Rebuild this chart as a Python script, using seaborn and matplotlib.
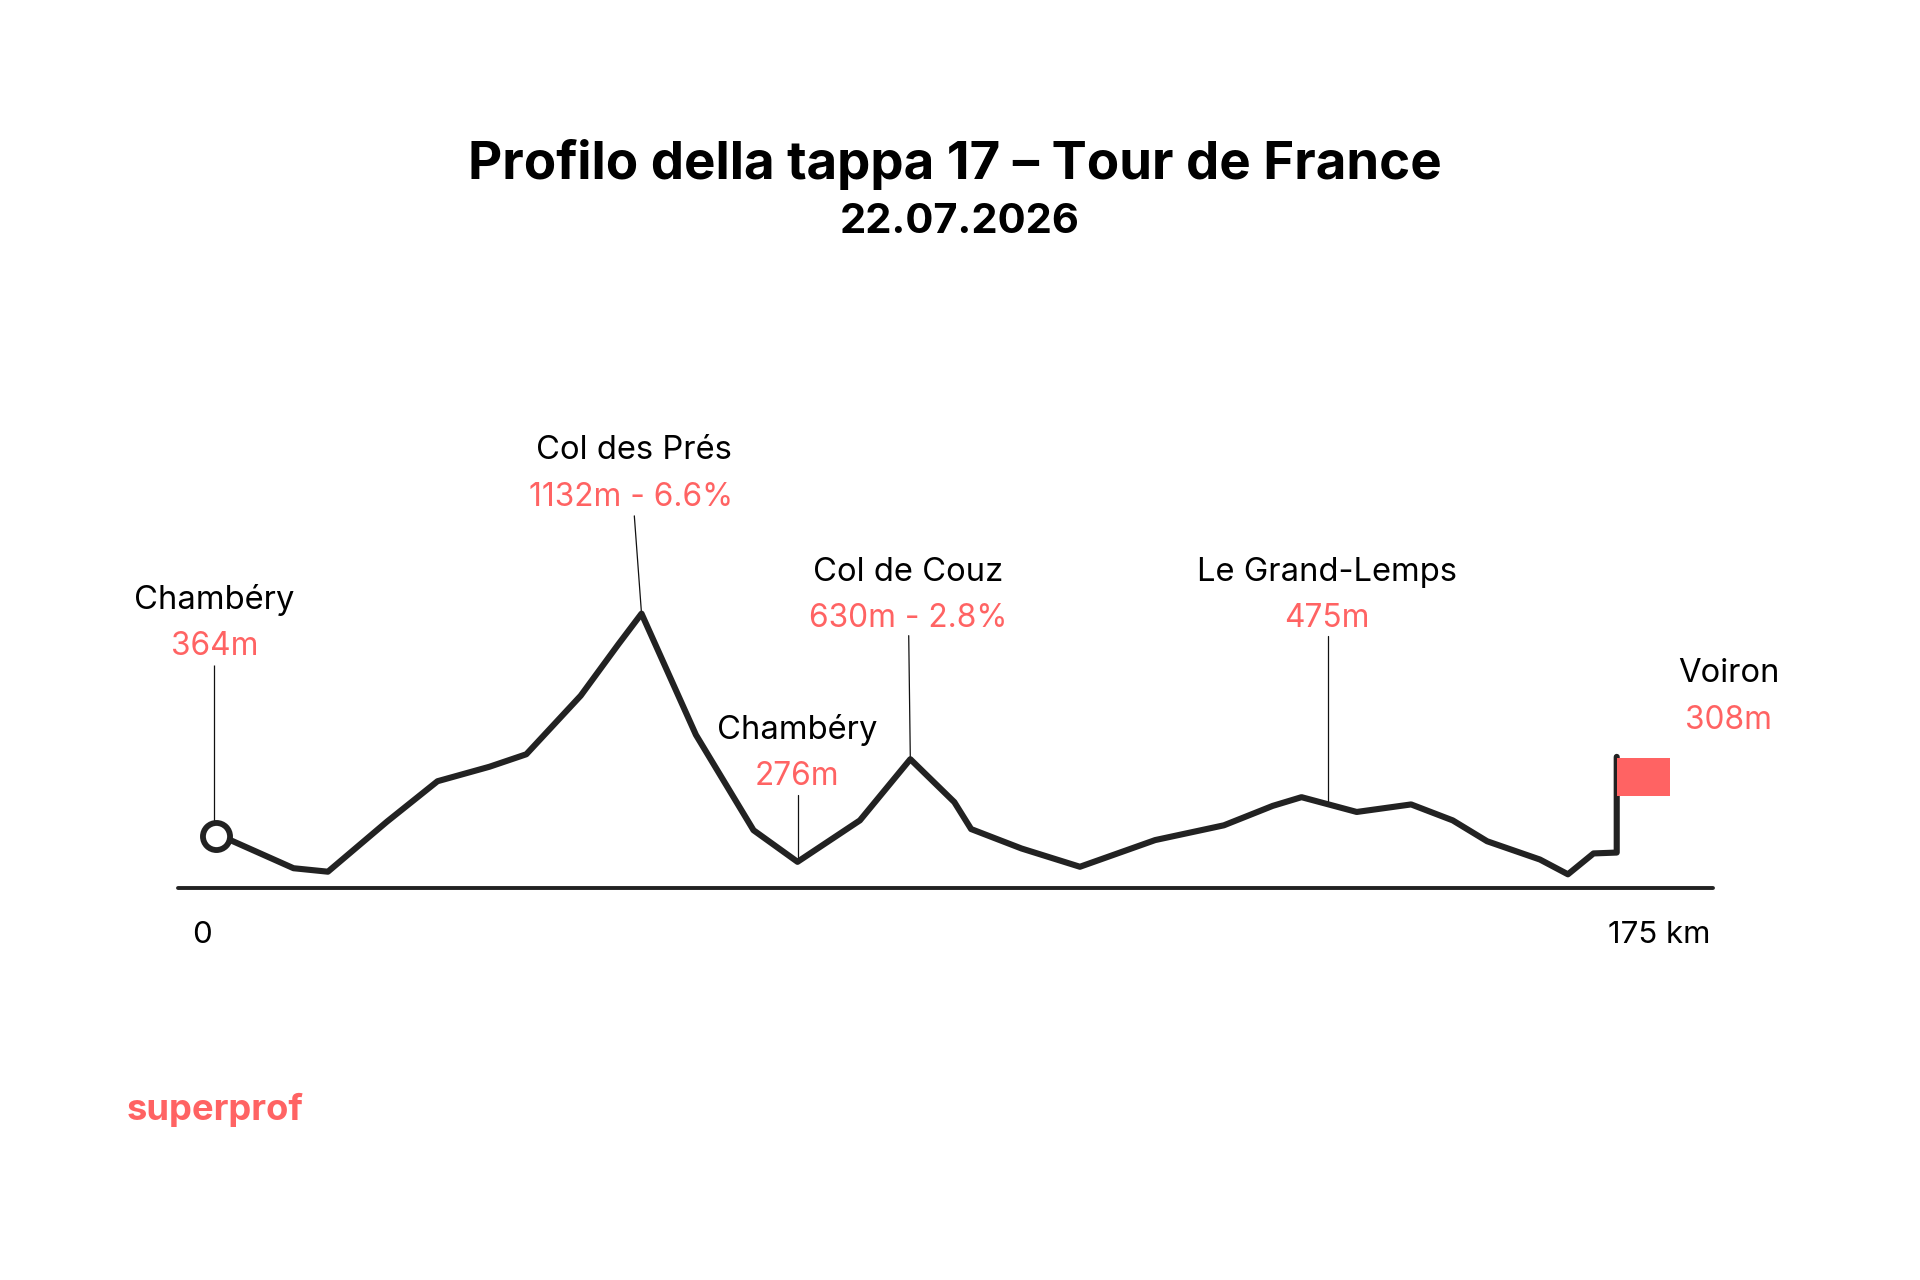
import matplotlib
matplotlib.use("Agg")
import matplotlib.pyplot as plt
import seaborn as sns
import pandas as pd
from matplotlib.patches import Rectangle

sns.set_theme(style="white")
plt.rcParams['font.family'] = ['Inter', 'DejaVu Sans']

km = [0, 1.7, 9.6, 13.9, 21.3, 27.6, 34.1, 38.7, 45.5, 50.2, 53.1, 59.9, 67.1, 72.6, 80.4, 86.7, 92.2, 94.3,
      100.6, 107.9, 117.3, 125.9, 132, 135.6, 142.5, 149.3, 154.5, 158.8, 165.4, 168.9, 172.1, 175, 175]
elev = [364, 351, 254, 242, 415, 554, 604, 647, 849, 1026, 1132, 714, 385, 276, 419, 630, 482, 389,
        322, 259, 351, 402, 469, 499, 448, 474, 419, 347, 284, 233, 305, 308, 638]

names = ["Chambéry", "Col des Prés", "Chambéry", "Col de Couz", "Le Grand-Lemps", "Voiron"]
values = ["364m", "1132m - 6.6%", "276m", "630m - 2.8%", "475m", "308m"]
leader_km0 = [-0.3, 52.2, 72.6, 86.5, 138.9]
leader_km1 = [-0.3, 53.1, 72.6, 86.7, 138.9]
leader_top = [955, 1469, 507, 1056, 1056]
leader_end = [410, 1132, 276, 630, 478]
title = "Profilo della tappa 17 – Tour de France"
subtitle = "22.07.2026"
tick_labels = ["0", "175 km"]
brand = "superprof"

INK = "#222222"
CORAL = "#FF6363"
W, H = 1568, 1045

fig = plt.figure(figsize=(19.2, 12.8), dpi=100, facecolor="white")
ax = fig.add_axes([0, 0, 1, 1])
ax.set_xlim(-27.09, 212.91)
ax.set_ylim(-1166, 3248)
ax.axis("off")

df = pd.DataFrame({"km": km, "elev": elev})
ax.hlines(186, -4.9, 187, color=INK, lw=2.8, capstyle="round", zorder=2)
ax.vlines(leader_km0[0], leader_end[0], leader_top[0], color="#111111", lw=0.9, zorder=1)
for a, b, t, e in zip(leader_km0[1:], leader_km1[1:], leader_top[1:], leader_end[1:]):
    ax.plot([a, b], [t, e], color="#111111", lw=0.9, zorder=1)
sns.lineplot(data=df, x="km", y="elev", sort=False, estimator=None, color=INK, lw=4.4, ax=ax, zorder=3)
ax.plot([-0.1], [364], "o", ms=19.5, mfc="white", mec=INK, mew=4.2, zorder=4)
ax.add_patch(Rectangle((175.0, 503), 6.7, 131, fc=CORAL, ec="none", zorder=4))
ax.set_xlabel("")
ax.set_ylabel("")


def t(x, y, s, **kw):
    fig.text(x / W, 1 - y / H, s, ha="center", va="center", **kw)


t(780, 134, title, fontsize=38, fontweight="bold", color="black")
t(784, 181, subtitle, fontsize=30, fontweight="bold", color="black")

name_xy = [(175, 490), (518, 368), (651, 596), (742, 467), (1084, 467), (1412, 550)]
val_xy = [(175, 528), (515, 406), (651, 634), (742, 505), (1084, 505), (1412, 588)]
for n, v, a, b in zip(names, values, name_xy, val_xy):
    t(a[0], a[1], n, fontsize=23.6, color="black")
    t(b[0], b[1], v, fontsize=22.8, color=CORAL)

t(165, 763, tick_labels[0], fontsize=22.5, color="black")
t(1355, 763, tick_labels[1], fontsize=22.5, color="black")
t(176, 906, brand, fontsize=26.2, fontweight="bold", color=CORAL)

fig.savefig("out.png", dpi=100, facecolor="white")
